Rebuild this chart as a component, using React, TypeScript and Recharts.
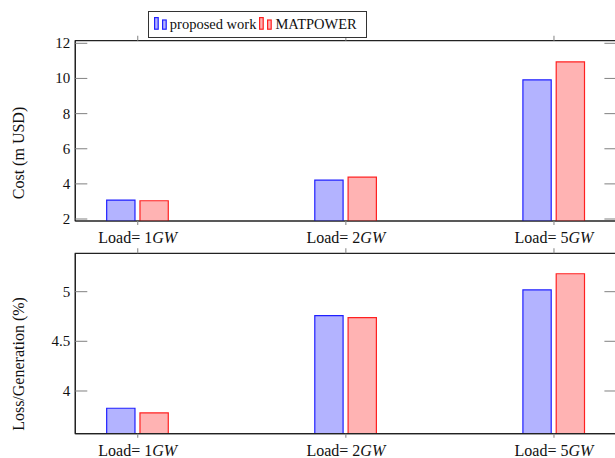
import React from "react";
import { Bar, BarChart, ReferenceArea, XAxis, YAxis } from "recharts";

// categories (load in GW) and their slots on the x axis
const loads = ["1", "2", "5"];
const slots = [0, 1, 2];

// series
const seriesNames = ["proposed work", "MATPOWER"];
const costProposed = [3.08, 4.21, 9.92];
const costMatpower = [3.04, 4.38, 10.94];
const lossProposed = [3.826, 4.759, 5.017];
const lossMatpower = [3.779, 4.739, 5.18];

// tick labels
const costTicks = [2, 4, 6, 8, 10, 12];
const lossTicks = [4, 4.5, 5];

const costRows = slots.map((x, i) => ({ x, proposed: costProposed[i], matpower: costMatpower[i] }));
const lossRows = slots.map((x, i) => ({ x, proposed: lossProposed[i], matpower: lossMatpower[i] }));

const FONT = "'Liberation Serif', 'Times New Roman', serif";
const FRAME = "#222";
const TICK = "#8c8c8c";
const STROKES = ["#1f1fff", "#ff2020"];
const FILLS = ["#b3b3ff", "#ffb3b3"];

const W = 640;
const LEFT = 75.3;
const RIGHT = 616.4;
const X_DOMAIN: [number, number] = [-0.3, 2.3];

type Box = { top: number; bottom: number };

function yTick(box: Box) {
  return (p: any) => (
    <g>
      <line x1={LEFT} x2={LEFT + 12} y1={p.y} y2={p.y} stroke={TICK} strokeWidth={1.1} />
      <line x1={RIGHT - 12} x2={RIGHT} y1={p.y} y2={p.y} stroke={TICK} strokeWidth={1.1} />
      <text x={LEFT - 5} y={p.y + 5} textAnchor="end" fontSize={15} fontFamily={FONT} fill="#111">
        {p.payload.value}
      </text>
    </g>
  );
}

function xTick(box: Box) {
  return (p: any) => (
    <g>
      <line x1={p.x} x2={p.x} y1={box.bottom} y2={box.bottom + 4} stroke={TICK} strokeWidth={1.1} />
      <line x1={p.x} x2={p.x} y1={box.top - 5} y2={box.top} stroke={TICK} strokeWidth={1.1} />
      <text x={p.x} y={box.bottom + 22} textAnchor="middle" fontSize={16} fontFamily={FONT} fill="#111">
        {"Load= " + loads[p.payload.value]}
        <tspan fontStyle="italic">GW</tspan>
      </text>
    </g>
  );
}

function YTitle({ text, cx, cy }: { text: string; cx: number; cy: number }) {
  return (
    <text
      x={cx}
      y={cy}
      transform={`rotate(-90 ${cx} ${cy})`}
      textAnchor="middle"
      dominantBaseline="central"
      fontSize={16}
      fontFamily={FONT}
      fill="#111"
    >
      {text}
    </text>
  );
}

function Panel({
  rows,
  height,
  box,
  domain,
  ticks,
  title,
  titleY,
}: {
  rows: { x: number; proposed: number; matpower: number }[];
  height: number;
  box: Box;
  domain: [number, number];
  ticks: number[];
  title: string;
  titleY: number;
}) {
  const frame = { stroke: FRAME, strokeWidth: 1.2 };
  return (
    <BarChart
      width={W}
      height={height}
      data={rows}
      margin={{ top: box.top, right: W - RIGHT, bottom: 0, left: LEFT - 60 }}
      barSize={28.3}
      barGap={5}
    >
      <XAxis
        xAxisId="b"
        dataKey="x"
        type="number"
        domain={X_DOMAIN}
        ticks={slots}
        interval={0}
        allowDataOverflow
        height={height - box.bottom}
        axisLine={frame}
        tickLine={false}
        tick={xTick(box)}
      />
      <YAxis
        yAxisId="l"
        type="number"
        domain={domain}
        ticks={ticks}
        interval={0}
        allowDataOverflow
        width={60}
        axisLine={frame}
        tickLine={false}
        tick={yTick(box)}
        label={<YTitle text={title} cx={18.3} cy={titleY} />}
      />
      {/* closes the box on the top and right sides */}
      <ReferenceArea
        xAxisId="b"
        yAxisId="l"
        x1={X_DOMAIN[0]}
        x2={X_DOMAIN[1]}
        y1={domain[0]}
        y2={domain[1]}
        fill="none"
        stroke={FRAME}
        strokeWidth={1.2}
        ifOverflow="visible"
      />
      <Bar
        xAxisId="b"
        yAxisId="l"
        dataKey="proposed"
        name={seriesNames[0]}
        fill={FILLS[0]}
        stroke={STROKES[0]}
        strokeWidth={1.2}
        isAnimationActive={false}
      />
      <Bar
        xAxisId="b"
        yAxisId="l"
        dataKey="matpower"
        name={seriesNames[1]}
        fill={FILLS[1]}
        stroke={STROKES[1]}
        strokeWidth={1.2}
        isAnimationActive={false}
      />
    </BarChart>
  );
}

function LegendIcon({ i }: { i: number }) {
  return (
    <svg width={16} height={14} style={{ display: "block" }}>
      <rect x={0.6} y={0.6} width={3.6} height={11.6} fill={FILLS[i]} stroke={STROKES[i]} strokeWidth={1.2} />
      <rect x={8.6} y={3} width={3.6} height={9.2} fill={FILLS[i]} stroke={STROKES[i]} strokeWidth={1.2} />
    </svg>
  );
}

export default function App() {
  return (
    <div
      style={{
        position: "fixed",
        left: 0,
        top: 0,
        width: 615,
        height: 458,
        overflow: "hidden",
        background: "#fff",
      }}
    >
      <div style={{ position: "absolute", left: 0, top: 0 }}>
        <Panel
          rows={costRows}
          height={250}
          box={{ top: 40.7, bottom: 221 }}
          domain={[1.886, 12.15]}
          ticks={costTicks}
          title="Cost (m USD)"
          titleY={153}
        />
      </div>
      <div style={{ position: "absolute", left: 0, top: 230 }}>
        <Panel
          rows={lossRows}
          height={228}
          box={{ top: 23.3, bottom: 203.7 }}
          domain={[3.57, 5.386]}
          ticks={lossTicks}
          title="Loss/Generation (%)"
          titleY={134}
        />
      </div>
      <div
        style={{
          position: "absolute",
          left: 148.3,
          top: 11,
          width: 218.4,
          height: 26.7,
          boxSizing: "border-box",
          border: "1.2px solid #333",
          background: "#fff",
          display: "flex",
          alignItems: "center",
          paddingLeft: 4.5,
          fontFamily: FONT,
          fontSize: 14.5,
          color: "#111",
        }}
      >
        {seriesNames.map((n, i) => (
          <div key={n} style={{ display: "flex", alignItems: "center", marginRight: 3 }}>
            <LegendIcon i={i} />
            <span>{n}</span>
          </div>
        ))}
      </div>
    </div>
  );
}
